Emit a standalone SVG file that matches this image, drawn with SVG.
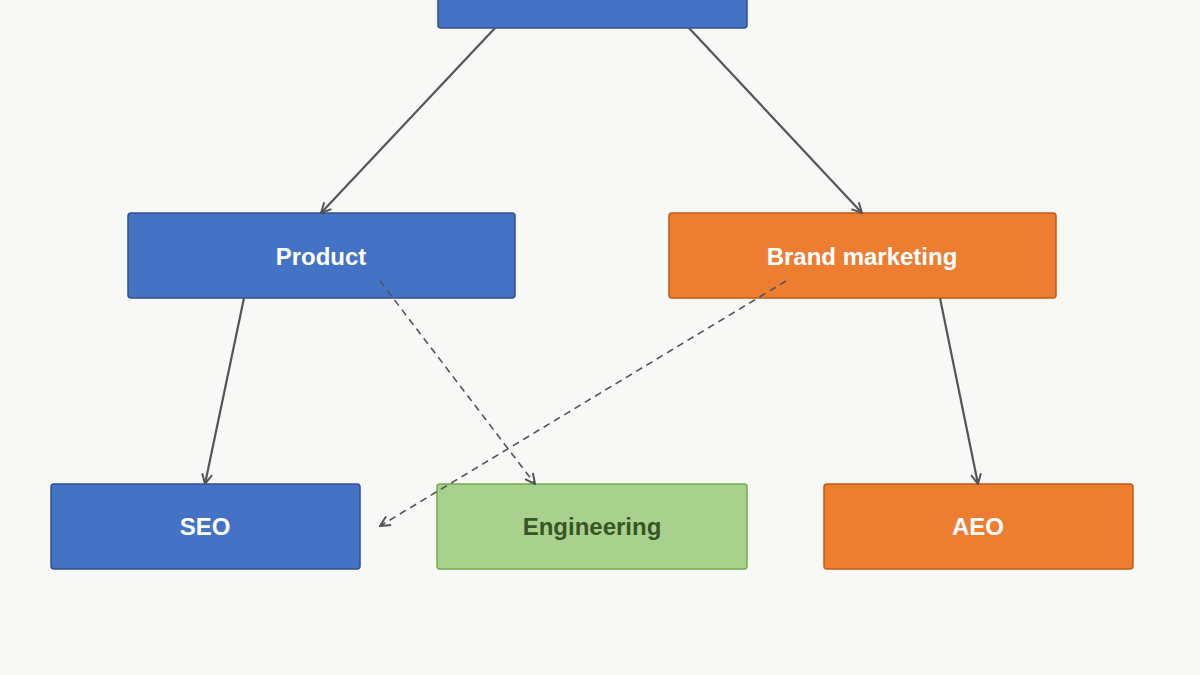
<svg xmlns="http://www.w3.org/2000/svg" width="1200" height="675" viewBox="0 0 1200 675">
<style>
.b{fill:#4472C4;stroke:#2F528F;stroke-width:1.5}
.o{fill:#ED7D31;stroke:#C55A11;stroke-width:1.5}
.g{fill:#A9D18E;stroke:#70AD47;stroke-width:1.5}
text{font-family:"Liberation Sans",Arial,sans-serif;font-weight:bold;font-size:24px;text-anchor:middle;dominant-baseline:central;fill:#fff}
.gt{fill:#375623}
.c{stroke:#555;stroke-width:2.2;fill:none;marker-end:url(#a)}
.d{stroke:#555;stroke-width:1.6;fill:none;stroke-dasharray:7 5;marker-end:url(#a)}
</style>
<defs><marker id="a" viewBox="0 0 12 12" refX="11" refY="6" markerWidth="12" markerHeight="12" markerUnits="userSpaceOnUse" orient="auto"><path d="M1,1 L11,6 L1,11" fill="none" stroke="#555" stroke-width="2"/></marker></defs>
<rect width="1200" height="675" fill="#F8F8F6"/>
<g id="top"><rect class="b" x="438" y="-10" width="309" height="38" rx="3"/></g>
<g id="product"><rect class="b" x="128" y="213" width="387" height="85" rx="3"/><text x="321" y="256">Product</text></g>
<g id="brand"><rect class="o" x="669" y="213" width="387" height="85" rx="3"/><text x="862" y="256">Brand marketing</text></g>
<g id="seo"><rect class="b" x="51" y="484" width="309" height="85" rx="3"/><text x="205" y="526">SEO</text></g>
<g id="eng"><rect class="g" x="437" y="484" width="310" height="85" rx="3"/><text class="gt" x="592" y="526">Engineering</text></g>
<g id="aeo"><rect class="o" x="824" y="484" width="309" height="85" rx="3"/><text x="978" y="526">AEO</text></g>
<g id="connectors">
<path class="c" d="M495,28 L321,213"/>
<path class="c" d="M689,28 L862,213"/>
<path class="c" d="M244,298 L205,484"/>
<path class="c" d="M940,298 L978,484"/>
<path class="d" d="M380,281 L535,484"/>
<path class="d" d="M786,281 L380,526"/>
</g>
</svg>
